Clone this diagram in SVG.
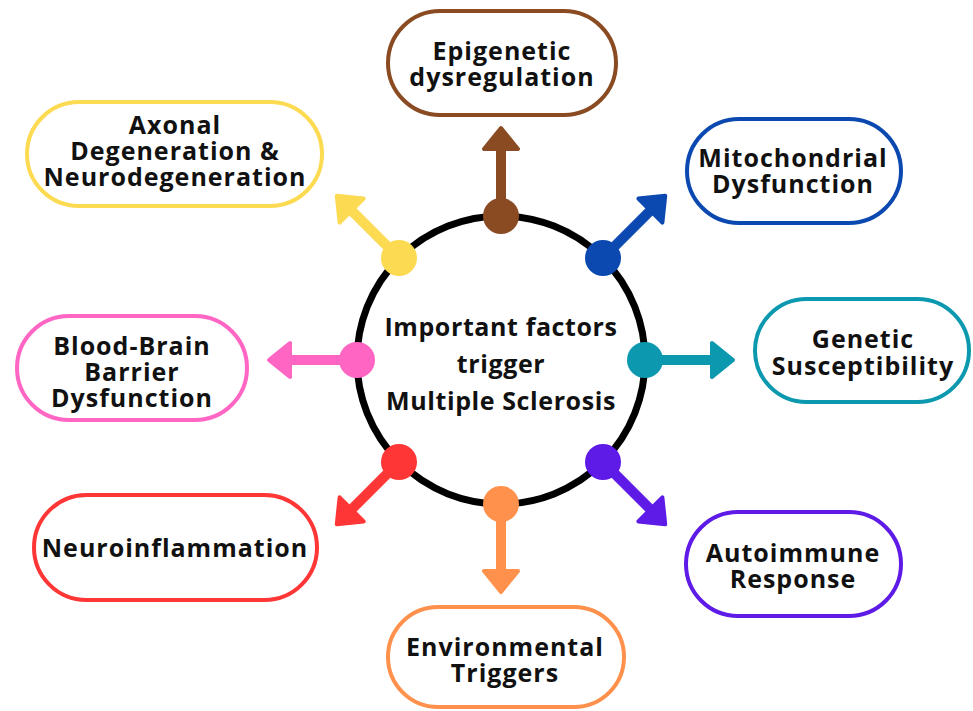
<svg xmlns="http://www.w3.org/2000/svg" xmlns:xlink="http://www.w3.org/1999/xlink" width="973" height="711" viewBox="0 0 973 711">
<style>
.box{fill:#fff;stroke-width:4}
.lbl{font-family:"Open Sans","Liberation Sans",sans-serif;font-weight:700;font-size:25px;letter-spacing:1px;fill:#111;text-anchor:middle}
.ctr{font-family:"Open Sans","Liberation Sans",sans-serif;font-weight:700;font-size:25px;letter-spacing:0.6px;fill:#111;text-anchor:middle}
</style>
<defs>
<g id="arrow">
<rect x="0" y="-4.5" width="70" height="9"/>
<path d="M67,-17 L88,0 L67,17 Z" stroke-width="4" stroke-linejoin="round"/>
</g>
</defs>
<rect width="973" height="711" fill="#fff"/>
<g id="connectors">
<use xlink:href="#arrow" transform="translate(501,216) rotate(-90)" fill="#8A4B22" stroke="#8A4B22"/>
<use xlink:href="#arrow" transform="translate(603,258) rotate(-45)" fill="#0B49B0" stroke="#0B49B0"/>
<use xlink:href="#arrow" transform="translate(645,360) rotate(0)" fill="#0C98AE" stroke="#0C98AE"/>
<use xlink:href="#arrow" transform="translate(603,462) rotate(45)" fill="#5E1AE6" stroke="#5E1AE6"/>
<use xlink:href="#arrow" transform="translate(501,504) rotate(90)" fill="#FF914D" stroke="#FF914D"/>
<use xlink:href="#arrow" transform="translate(399,462) rotate(135)" fill="#FF3636" stroke="#FF3636"/>
<use xlink:href="#arrow" transform="translate(357,360) rotate(180)" fill="#FF66C4" stroke="#FF66C4"/>
<use xlink:href="#arrow" transform="translate(399,258) rotate(-135)" fill="#FCDA52" stroke="#FCDA52"/>
</g>
<g id="hub">
<circle cx="501" cy="360" r="144" fill="#fff" stroke="#000" stroke-width="7"/>
<circle cx="501" cy="216" r="18" fill="#8A4B22"/>
<circle cx="603" cy="258" r="18" fill="#0B49B0"/>
<circle cx="645" cy="360" r="18" fill="#0C98AE"/>
<circle cx="603" cy="462" r="18" fill="#5E1AE6"/>
<circle cx="501" cy="504" r="18" fill="#FF914D"/>
<circle cx="399" cy="462" r="18" fill="#FF3636"/>
<circle cx="357" cy="360" r="18" fill="#FF66C4"/>
<circle cx="399" cy="258" r="18" fill="#FCDA52"/>
<text class="ctr"><tspan x="501" y="336">Important factors</tspan><tspan x="501" y="373">trigger</tspan><tspan x="501" y="410">Multiple Sclerosis</tspan></text>
</g>
<g id="epigenetic">
<rect class="box" x="388" y="11" width="228" height="104" rx="52" stroke="#8A4B22"/>
<text class="lbl"><tspan x="502" y="60">Epigenetic</tspan><tspan x="502" y="86">dysregulation</tspan></text>
</g>
<g id="axonal">
<rect class="box" x="27" y="102" width="295" height="104" rx="52" stroke="#FCDA52"/>
<text class="lbl"><tspan x="175" y="134">Axonal</tspan><tspan x="175" y="160">Degeneration &amp;</tspan><tspan x="175" y="186">Neurodegeneration</tspan></text>
</g>
<g id="mitochondrial">
<rect class="box" x="687" y="119" width="214" height="104" rx="52" stroke="#0B49B0"/>
<text class="lbl"><tspan x="793" y="167">Mitochondrial</tspan><tspan x="793" y="193">Dysfunction</tspan></text>
</g>
<g id="bbb">
<rect class="box" x="17" y="316" width="230" height="104" rx="52" stroke="#FF66C4"/>
<text class="lbl"><tspan x="132" y="355">Blood-Brain</tspan><tspan x="132" y="381">Barrier</tspan><tspan x="132" y="407">Dysfunction</tspan></text>
</g>
<g id="genetic">
<rect class="box" x="755" y="299" width="214" height="103" rx="51.5" stroke="#0C98AE"/>
<text class="lbl"><tspan x="863" y="348">Genetic</tspan><tspan x="863" y="375">Susceptibility</tspan></text>
</g>
<g id="neuroinflammation">
<rect class="box" x="34" y="495" width="283" height="105" rx="52.5" stroke="#FF3636"/>
<text class="lbl" x="175" y="557">Neuroinflammation</text>
</g>
<g id="autoimmune">
<rect class="box" x="686" y="512" width="215" height="104" rx="52" stroke="#5E1AE6"/>
<text class="lbl"><tspan x="793" y="562">Autoimmune</tspan><tspan x="793" y="588">Response</tspan></text>
</g>
<g id="environmental">
<rect class="box" x="388" y="607" width="236" height="100" rx="50" stroke="#FF914D"/>
<text class="lbl"><tspan x="505" y="656">Environmental</tspan><tspan x="505" y="682">Triggers</tspan></text>
</g>
</svg>
